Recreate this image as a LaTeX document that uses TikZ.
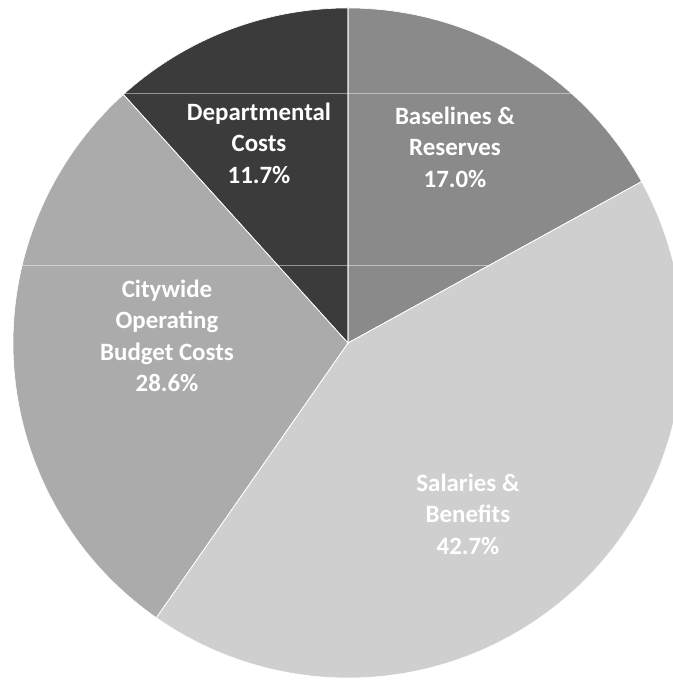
\documentclass[tikz,border=0pt]{standalone}
\usepackage{fontspec}
\setmainfont{Carlito}
\begin{document}
\begin{tikzpicture}[x=1bp,y=1bp,
  slice/.style={draw=white,line width=0.6bp},
  lbl/.style={text=white,font=\bfseries\fontsize{25}{31.5}\selectfont,align=center,inner sep=0pt},
  scanline/.style={draw=white,opacity=0.45,line width=1bp}]
\useasboundingbox (0,0) rectangle (673,683);
\clip (0,0) rectangle (673,683);
\coordinate (C) at (348,340);
\def\R{335}
% slices
\fill[slice,fill=black!46] (C) -- ++(90:\R) arc[start angle=90,end angle=28.8,radius=\R] -- cycle;
\fill[slice,fill=black!19] (C) -- ++(28.8:\R) arc[start angle=28.8,end angle=-124.9,radius=\R] -- cycle;
\fill[slice,fill=black!33] (C) -- ++(-124.9:\R) arc[start angle=-124.9,end angle=-227.9,radius=\R] -- cycle;
\fill[slice,fill=black!77] (C) -- ++(-227.9:\R) arc[start angle=-227.9,end angle=-270,radius=\R] -- cycle;
\draw[slice] (C) -- ++(90:\R) (C) -- ++(28.8:\R) (C) -- ++(-124.9:\R) (C) -- ++(-227.9:\R);
% faint scan lines
\begin{scope}
\clip (C) circle[radius=\R];
\draw[scanline] (0,589) -- (673,589);
\draw[scanline] (0,417) -- (488,417);
\end{scope}
% labels
\node[lbl] (dep) at (259,540) {Departmental\\Costs\\11.7\%};
\node[lbl] (base) at (455,536) {Baselines \&\\Reserves\\17.0\%};
\node[lbl] (sal) at (468,169) {Salaries \&\\Benefits\\42.7\%};
\node[lbl] (city) at (167,347) {Citywide\\Operating\\Budget Costs\\28.6\%};
\end{tikzpicture}
\end{document}
